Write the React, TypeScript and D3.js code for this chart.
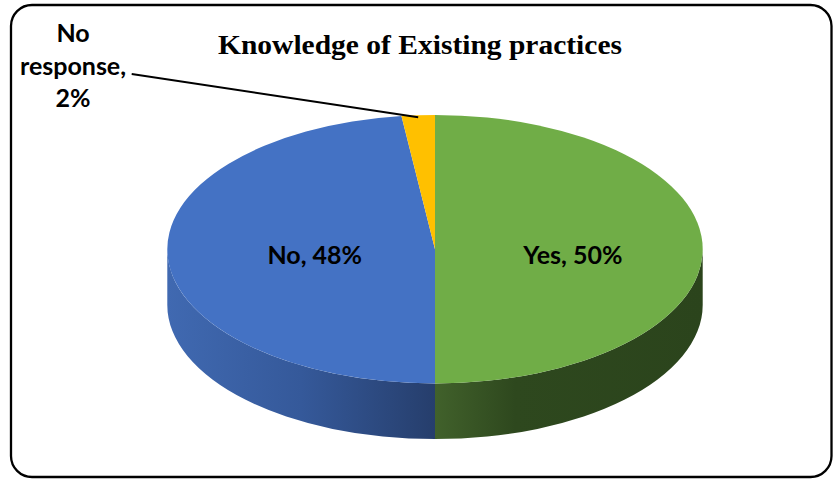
import React from "react";
import * as d3 from "d3";

const categories = ["Yes", "No", "No response"];
const values = [50, 48, 2];
const percentLabels = ["50%", "48%", "2%"];
const colors = ["#70AD47", "#4472C4", "#FFC000"];
const title = "Knowledge of Existing practices";

const W = 833;
const H = 479;
const cx = 435;
const cy = 249.2;
const rx = 267.7;
const ry = 134.2;
const depth = 55.7;

const pt = (a: number, dy = 0): [number, number] => [
  cx + rx * Math.sin(a),
  cy - ry * Math.cos(a) + dy,
];

export default function App() {
  const pie = d3
    .pie<number>()
    .sort(null)
    .startAngle(0)
    .endAngle(2 * Math.PI)(values);

  const topPath = (a0: number, a1: number) => {
    const p = d3.path();
    const [x0, y0] = pt(a0);
    const [x1, y1] = pt(a1);
    const large = a1 - a0 > Math.PI ? 1 : 0;
    p.moveTo(cx, cy);
    p.lineTo(x0, y0);
    return `${p.toString()} A ${rx} ${ry} 0 ${large} 1 ${x1} ${y1} Z`;
  };

  const sidePath = (a0: number, a1: number) => {
    const s = Math.max(a0, Math.PI / 2);
    const e = Math.min(a1, (3 * Math.PI) / 2);
    if (e <= s) return null;
    const [x0, y0] = pt(s);
    const [x1, y1] = pt(e);
    return `M ${x0} ${y0} A ${rx} ${ry} 0 0 1 ${x1} ${y1} L ${x1} ${y1 + depth} A ${rx} ${ry} 0 0 0 ${x0} ${y0 + depth} Z`;
  };

  const sideFill = ["url(#gSideGreen)", "url(#gSideBlue)", "#b38600"];
  const labelK = [0.515, 0.45, 0];

  const labelFont = "Lato, 'Open Sans', sans-serif";

  return (
    <svg width={W} height={H} style={{ position: "absolute", left: 0, top: 0 }}>
      <defs>
        <linearGradient id="gSideBlue" gradientUnits="userSpaceOnUse" x1={cx - rx} y1={0} x2={cx} y2={0}>
          <stop offset="0" stopColor="#4069b1" />
          <stop offset="0.5" stopColor="#35599a" />
          <stop offset="1" stopColor="#263e6c" />
        </linearGradient>
        <linearGradient id="gSideGreen" gradientUnits="userSpaceOnUse" x1={cx} y1={0} x2={cx + rx} y2={0}>
          <stop offset="0" stopColor="#41612b" />
          <stop offset="0.3" stopColor="#2e481e" />
          <stop offset="1" stopColor="#2b441c" />
        </linearGradient>
      </defs>
      <rect x={11} y={5} width={820.5} height={472} rx={21} ry={21} fill="#fff" stroke="#000" strokeWidth={2.3} />
      <text
        x={420}
        y={54.3}
        textAnchor="middle"
        fontFamily="'Liberation Serif', serif"
        fontWeight="bold"
        fontSize={27}
        textLength={404}
        lengthAdjust="spacingAndGlyphs"
        fill="#000"
      >
        {title}
      </text>
      {pie.map((d, i) => {
        const sp = sidePath(d.startAngle, d.endAngle);
        return sp ? <path key={"s" + i} d={sp} fill={sideFill[i]} /> : null;
      })}
      {pie.map((d, i) => (
        <path key={"t" + i} d={topPath(d.startAngle, d.endAngle)} fill={colors[i]} />
      ))}
      {pie.map((d, i) => {
        if (i === 2) return null;
        const mid = (d.startAngle + d.endAngle) / 2;
        const x = cx + rx * labelK[i] * Math.sin(mid);
        return (
          <text
            key={"l" + i}
            x={x}
            y={264.3}
            textAnchor="middle"
            fontFamily={labelFont}
            fontWeight="bold"
            fontSize={25}
            fill="#000"
          >
            {`${categories[i]}, ${percentLabels[i]}`}
          </text>
        );
      })}
      {(() => {
        const d = pie[2];
        const mid = (d.startAngle + d.endAngle) / 2;
        const [ex, ey] = pt(mid, 2);
        return (
          <g>
            <line x1={131.7} y1={74} x2={ex} y2={ey} stroke="#000" strokeWidth={1.8} />
            <text textAnchor="middle" fontFamily={labelFont} fontWeight="bold" fontSize={25} fill="#000">
              <tspan x={73} y={41.7}>No</tspan>
              <tspan x={73} y={75}>response,</tspan>
              <tspan x={73} y={107}>{percentLabels[2]}</tspan>
            </text>
          </g>
        );
      })()}
    </svg>
  );
}
